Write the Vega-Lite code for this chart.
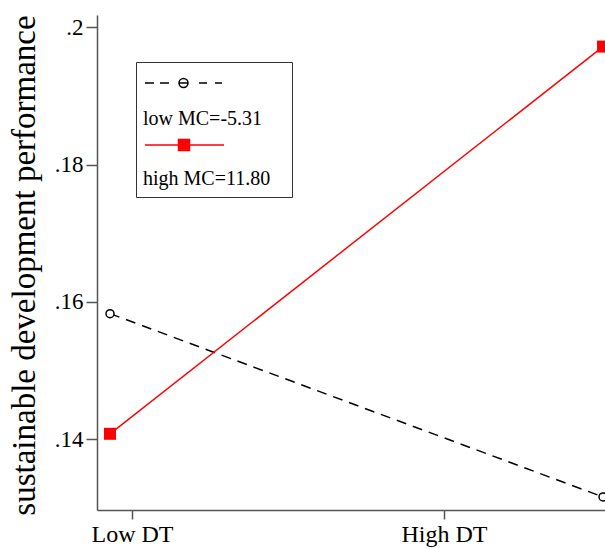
{
  "$schema": "https://vega.github.io/schema/vega-lite/v6.json",
  "width": 508,
  "height": 495,
  "autosize": "none",
  "padding": {"left": 97, "top": 15, "right": 0, "bottom": 39},
  "background": "white",
  "data": {
    "values": [
      {"dt": 0, "sdp": 0.1583, "grp": "low MC=-5.31"},
      {"dt": 1, "sdp": 0.1316, "grp": "low MC=-5.31"},
      {"dt": 0, "sdp": 0.1408, "grp": "high MC=11.80"},
      {"dt": 1, "sdp": 0.1972, "grp": "high MC=11.80"}
    ]
  },
  "encoding": {
    "x": {
      "field": "dt", "type": "quantitative",
      "scale": {"domain": [-0.0264, 1.004], "nice": false, "zero": false},
      "axis": {
        "values": [0.0446, 0.6775],
        "labelExpr": "datum.value < 0.3 ? 'Low DT' : 'High DT'",
        "title": null, "grid": false, "tickSize": 9, "labelPadding": 3,
        "labelFont": "Liberation Serif", "labelFontSize": 24, "labelColor": "black",
        "domainColor": "#555", "tickColor": "#555", "domainWidth": 1.5, "tickWidth": 1.5,
        "labelOverlap": false, "labelBound": false, "labelFlush": false
      }
    },
    "y": {
      "field": "sdp", "type": "quantitative",
      "scale": {"domain": [0.1297, 0.2018], "nice": false, "zero": false},
      "axis": {
        "values": [0.14, 0.16, 0.18, 0.2],
        "labelExpr": "slice(format(datum.value, '.2~f'), 1)",
        "title": "sustainable development performance",
        "titleFont": "Liberation Serif", "titleFontSize": 33, "titleFontWeight": "normal", "titleColor": "black",
        "titleAngle": -90, "titleAlign": "center", "titleBaseline": "middle", "titleX": -73, "titleY": 250,
        "grid": false, "tickSize": 11, "labelPadding": 3,
        "labelFont": "Liberation Serif", "labelFontSize": 23, "labelColor": "black",
        "domainColor": "#555", "tickColor": "#555", "domainWidth": 1.5, "tickWidth": 1.5,
        "labelOverlap": false, "labelBound": false, "labelFlush": false
      }
    }
  },
  "layer": [
    {
      "transform": [{"filter": "datum.grp === 'low MC=-5.31'"}],
      "mark": {"type": "line", "color": "black", "strokeWidth": 1.5, "strokeDash": [10, 7]}
    },
    {
      "transform": [{"filter": "datum.grp === 'high MC=11.80'"}],
      "mark": {"type": "line", "color": "#ff0000", "strokeWidth": 1.5}
    },
    {
      "transform": [{"filter": "datum.grp === 'low MC=-5.31'"}],
      "mark": {"type": "point", "shape": "circle", "size": 64, "filled": true, "fill": "white", "stroke": "black", "strokeWidth": 1.5, "opacity": 1}
    },
    {
      "transform": [{"filter": "datum.grp === 'high MC=11.80'"}],
      "mark": {"type": "point", "shape": "square", "size": 144, "filled": true, "color": "#ff0000", "strokeWidth": 0, "opacity": 1}
    },
    {
      "mark": {"type": "point", "opacity": 0},
      "encoding": {
        "shape": {
          "field": "grp", "type": "nominal",
          "scale": {
            "domain": ["low MC=-5.31", "high MC=11.80"],
            "range": [
              "M127,-36M-9,-36H0M6,-36H15M25,-36H34M45,-36H53M61,-36H68M34,-36A4.5,4.5,0,1,1,25,-36A4.5,4.5,0,1,1,34,-36",
              "M127,-34M-9,-34H70M24.5,-39.5H35.5V-28.5H24.5Z"
            ]
          },
          "legend": {
            "title": "\u00a0", "titleFontSize": 20, "titlePadding": 19,
            "orient": "none", "legendX": 39, "legendY": 47,
            "symbolSize": 4, "symbolStrokeWidth": 1.5, "symbolOpacity": 1,
            "labelFont": "Liberation Serif", "labelFontSize": 20, "labelColor": "black",
            "labelOffset": -21, "labelLimit": 0, "rowPadding": 7, "padding": 8,
            "strokeColor": "#333"
          }
        },
        "stroke": {
          "field": "grp", "type": "nominal",
          "scale": {"domain": ["low MC=-5.31", "high MC=11.80"], "range": ["black", "#ff0000"]}
        },
        "fill": {
          "field": "grp", "type": "nominal",
          "scale": {"domain": ["low MC=-5.31", "high MC=11.80"], "range": ["white", "#ff0000"]}
        }
      }
    }
  ],
  "config": {
    "view": {"stroke": null},
    "legend": {"strokeWidth": 1}
  }
}
